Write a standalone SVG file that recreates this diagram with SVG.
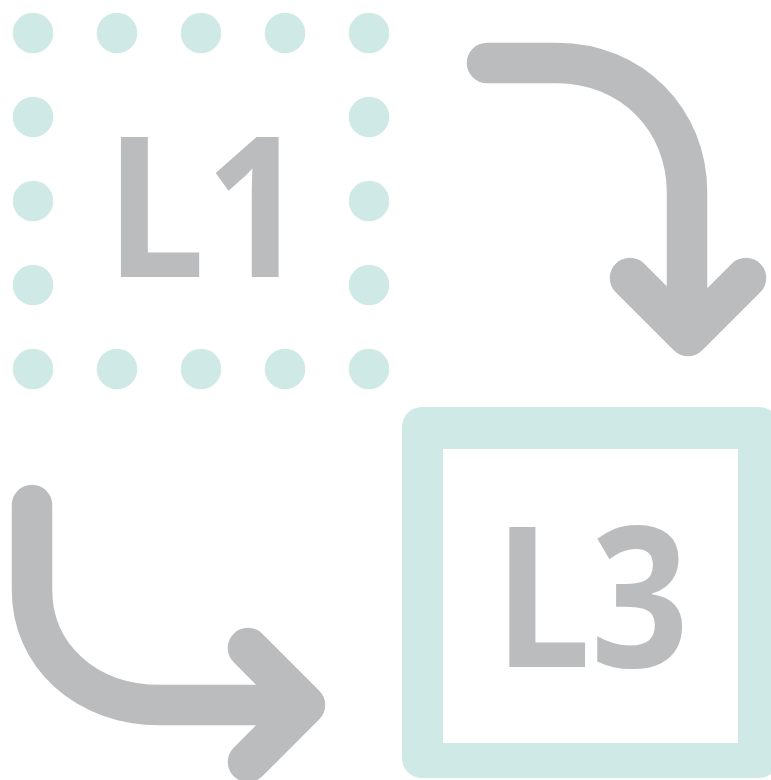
<svg xmlns="http://www.w3.org/2000/svg" width="771" height="780" viewBox="0 0 771 780">
<style>
.dot{fill:#cfe9e7}
.arrow{fill:none;stroke:#bbbcbe;stroke-width:40.5;stroke-linecap:round;stroke-linejoin:round}
.lbl{font-family:"Open Sans","Liberation Sans",sans-serif;font-weight:700;font-size:196px;fill:#bbbcbe}
</style>
<rect width="771" height="780" fill="#ffffff"/>
<g id="L1">
<g id="dots">
<circle class="dot" cx="33" cy="33" r="20.3"/><circle class="dot" cx="117" cy="33" r="20.3"/><circle class="dot" cx="201" cy="33" r="20.3"/><circle class="dot" cx="285" cy="33" r="20.3"/><circle class="dot" cx="369" cy="33" r="20.3"/>
<circle class="dot" cx="33" cy="117" r="20.3"/><circle class="dot" cx="369" cy="117" r="20.3"/>
<circle class="dot" cx="33" cy="201" r="20.3"/><circle class="dot" cx="369" cy="201" r="20.3"/>
<circle class="dot" cx="33" cy="285" r="20.3"/><circle class="dot" cx="369" cy="285" r="20.3"/>
<circle class="dot" cx="33" cy="369" r="20.3"/><circle class="dot" cx="117" cy="369" r="20.3"/><circle class="dot" cx="201" cy="369" r="20.3"/><circle class="dot" cx="285" cy="369" r="20.3"/><circle class="dot" cx="369" cy="369" r="20.3"/>
</g>
<text class="lbl" x="105" y="277" transform="translate(105,0) scale(0.905,1) translate(-105,0)">L1</text>
</g>
<g id="L3">
<path fill="#cfe9e7" fill-rule="evenodd" d="M422,407 H759 A20,20 0 0 1 779,427 V758 A20,20 0 0 1 759,778 H422 A20,20 0 0 1 402,758 V427 A20,20 0 0 1 422,407 Z M443,449 V743 H738 V449 Z"/>
<text class="lbl" x="494" y="667" transform="translate(494,0) scale(0.875,1) translate(-494,0)">L3</text>
</g>
<g id="connectors">
<path class="arrow" d="M487,63 H557 C632,63 687,120 687,192 V330"/>
<path class="arrow" d="M630,278 L688,336 L746,278"/>
<path class="arrow" d="M32,505 V590 C32,655 85,705 160,705 H300"/>
<path class="arrow" d="M248,648 L305,705 L248,762"/>
</g>
</svg>
